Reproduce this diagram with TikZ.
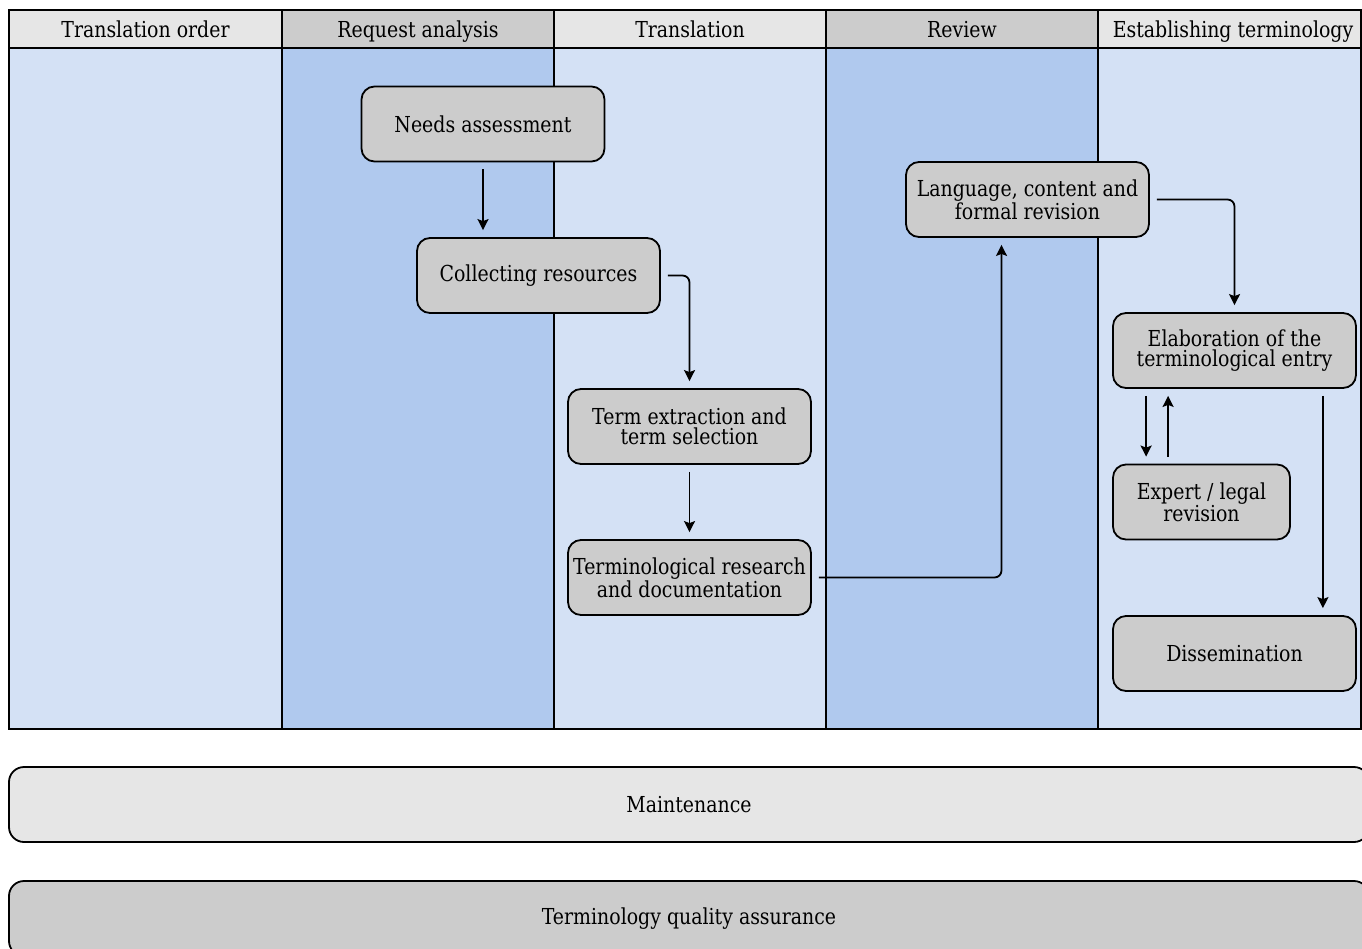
\documentclass[tikz,border=0pt]{standalone}
\usepackage{fontspec}
\setmainfont{DejaVu Serif}[FakeStretch=0.86]
\usetikzlibrary{arrows.meta}
\definecolor{lanelight}{RGB}{212,225,245}
\definecolor{lanedark}{RGB}{176,201,238}
\definecolor{hdrlight}{RGB}{230,230,230}
\definecolor{hdrdark}{RGB}{204,204,204}
\definecolor{boxgray}{RGB}{204,204,204}
\tikzset{
  proc/.style={rectangle, rounded corners=13pt, draw=black, line width=1.8pt,
    fill=boxgray, minimum width=243pt, minimum height=75pt, align=center,
    inner sep=1pt, font=\fontsize{22}{20}\selectfont},
  hdr/.style={inner sep=0pt, anchor=base, font=\fontsize{22}{22}\selectfont},
  bar/.style={rectangle, rounded corners=15pt, draw=black, line width=1.8pt,
    minimum width=1360pt, minimum height=75pt, font=\fontsize{22}{22}\selectfont},
  arr/.style={-{Stealth[length=11pt,width=11pt,inset=2pt]}, line width=1.8pt,
    shorten <=7pt, shorten >=7pt},
  grid/.style={draw=black, line width=1.7pt}
}
\begin{document}
\begin{tikzpicture}[x=1pt,y=-1pt]
\useasboundingbox (0,0) rectangle (1362,948);
\clip (0,0) rectangle (1362,948);
\fill[white] (0,0) rectangle (1362,948);
% lanes
\fill[lanelight] (9,48) rectangle (282,729);
\fill[lanedark] (282,48) rectangle (554,729);
\fill[lanelight] (554,48) rectangle (826,729);
\fill[lanedark] (826,48) rectangle (1098,729);
\fill[lanelight] (1098,48) rectangle (1366,729);
% header cells
\fill[hdrlight] (9,10) rectangle (282,48);
\fill[hdrdark] (282,10) rectangle (554,48);
\fill[hdrlight] (554,10) rectangle (826,48);
\fill[hdrdark] (826,10) rectangle (1098,48);
\fill[hdrlight] (1098,10) rectangle (1366,48);
% grid lines
\draw[grid] (9,10) rectangle (1361,729);
\draw[grid] (9,48) -- (1361,48);
\foreach \x in {282,554,826,1098} \draw[grid] (\x,10) -- (\x,729);
% headers
\node[hdr] (h1) at (145.5,37.5) {Translation order};
\node[hdr] (h2) at (418,37.5) {Request analysis};
\node[hdr] (h3) at (690,37.5) {Translation};
\node[hdr] (h4) at (962,37.5) {Review};
\node[hdr] (h5) at (1233,37.5) {Establishing terminology};
% process nodes
\node[proc] (na) at (483,124) {Needs assessment};
\node[proc] (cr) at (538.5,275.5) {Collecting resources};
\node[proc] (te) at (689.5,426.5) {Term extraction and\\term selection};
\node[proc] (tr) at (689.5,577.5) {Terminological research\\and documentation};
\node[proc] (lr) at (1027.5,199.5) {Language, content and\\formal revision};
\node[proc] (el) at (1234.5,350.5) {Elaboration of the\\terminological entry};
\node[proc, minimum width=177pt] (ex) at (1201.5,502) {Expert / legal\\revision};
\node[proc] (di) at (1234.5,653.5) {Dissemination};
% bars
\node[bar, fill=hdrlight] (mt) at (689,804.5) {Maintenance};
\node[bar, fill=hdrdark] (qa) at (689,918.5) {Terminology quality assurance};
% connectors
\draw[arr] (na.south) -- (na.south |- cr.north);
\draw[arr, rounded corners=7pt] (cr.east) -| (te.north);
\draw[arr] (te.south) -- (tr.north);
\draw[arr, rounded corners=7pt] (tr.east) -| ([xshift=-26pt]lr.south);
\draw[arr, rounded corners=7pt] (lr.east) -| (el.north);
\draw[arr] ([xshift=34pt]el.south west) -- ([xshift=34pt]el.south west |- ex.north);
\draw[arr] ([xshift=56pt]ex.north west) -- ([xshift=56pt]ex.north west |- el.south);
\draw[arr] ([xshift=-34pt]el.south east) -- ([xshift=-34pt]el.south east |- di.north);
\end{tikzpicture}
\end{document}
